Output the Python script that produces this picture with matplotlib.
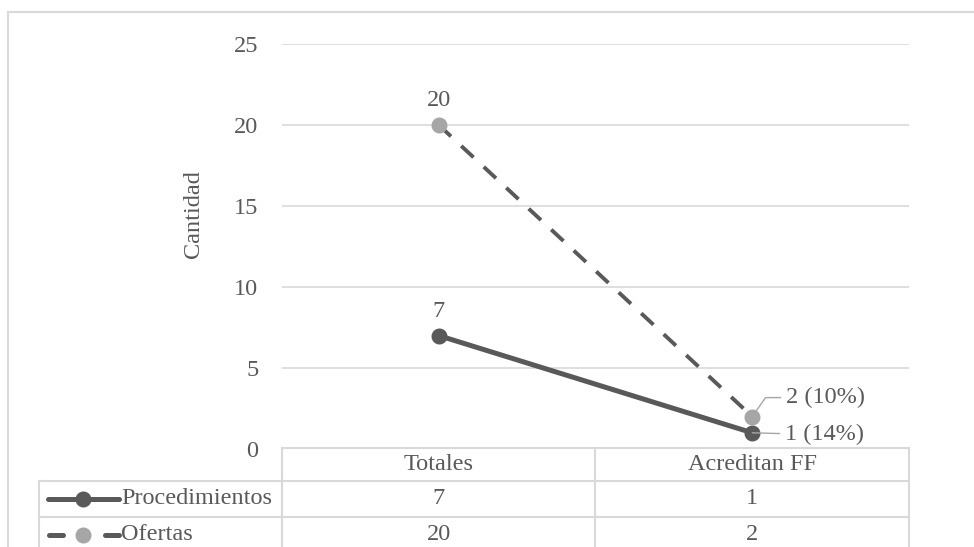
import matplotlib
matplotlib.use('Agg')
import matplotlib.pyplot as plt
from matplotlib.lines import Line2D
from matplotlib.patches import Rectangle

categorias = ['Totales', 'Acreditan FF']
procedimientos = [7, 1]
ofertas = [20, 2]
etiquetas_proc = ['7', '1 (14%)']
etiquetas_ofer = ['20', '2 (10%)']
yticks = [0, 5, 10, 15, 20, 25]

W, H = 974, 547
gris = '#595959'
gris_claro = '#a6a6a6'
borde = '#d9d9d9'
fs = 17.5
ms = 10.5

plt.rcParams['font.family'] = ['Liberation Serif', 'DejaVu Serif']

fig = plt.figure(figsize=(W / 100, H / 100), dpi=100)


def fx(x):
    return x / W


def fy(y):
    return 1 - y / H


# Chart area border
fig.patches.append(Rectangle((fx(8), fy(560)), fx(980) - fx(8), fy(12) - fy(560),
                             transform=fig.transFigure, fill=False,
                             edgecolor=borde, linewidth=1.5))

ax = fig.add_axes([fx(282), fy(449), fx(909) - fx(282), fy(44) - fy(449)])
x = list(range(len(categorias)))

ax.plot(x, procedimientos, color=gris, linewidth=3.6, marker='o',
        markersize=ms, zorder=3, solid_capstyle='round')
ax.plot(x, ofertas, color=gris, linewidth=2.8, linestyle=(0, (4.3, 3.6)),
        marker='o', markersize=ms, markerfacecolor=gris_claro,
        markeredgecolor=gris_claro, zorder=3)

ax.set_xlim(-0.5, 1.5)
ax.set_ylim(0, 25)
ax.set_yticks(yticks)
ax.set_xticks([])
ax.tick_params(axis='y', length=0, pad=17, labelsize=fs, labelcolor=gris)
for s in ax.spines.values():
    s.set_visible(False)
ax.grid(axis='y', color=borde, linewidth=1.2)
ax.set_axisbelow(True)

fig.text(fx(193), fy(214), 'Cantidad', rotation=90, ha='center', va='center',
         fontsize=fs, color=gris)

# Data labels
ax.annotate(etiquetas_ofer[0], (0, ofertas[0]), xytext=(0, 14), textcoords='offset pixels',
            ha='center', va='bottom', fontsize=fs, color=gris)
ax.annotate(etiquetas_proc[0], (0, procedimientos[0]), xytext=(0, 14), textcoords='offset pixels',
            ha='center', va='bottom', fontsize=fs, color=gris)
ax.annotate(etiquetas_ofer[1], (1, ofertas[1]), xytext=(34, 19), textcoords='offset pixels',
            ha='left', va='center', fontsize=fs, color=gris,
            arrowprops=dict(arrowstyle='-', color=gris_claro, linewidth=1,
                            shrinkA=2, shrinkB=3,
                            connectionstyle='angle,angleA=0,angleB=55,rad=0'))
ax.annotate(etiquetas_proc[1], (1, procedimientos[1]), xytext=(33, -2), textcoords='offset pixels',
            ha='left', va='center', fontsize=fs, color=gris,
            arrowprops=dict(arrowstyle='-', color=gris_claro, linewidth=1,
                            shrinkA=2, shrinkB=0))

# Data table below the plot
cols = [282, 595, 909]
filas = [448, 481, 517, 560]
leyenda_x = 39


def linea(x0, y0, x1, y1):
    fig.add_artist(Line2D([fx(x0), fx(x1)], [fy(y0), fy(y1)], transform=fig.transFigure,
                          color=borde, linewidth=1.5))


linea(cols[0], filas[0], cols[-1], filas[0])
for y in filas[1:3]:
    linea(leyenda_x, y, cols[-1], y)
for c in cols:
    linea(c, filas[0], c, H + 10)
linea(leyenda_x, filas[1], leyenda_x, H + 10)

y1 = (filas[1] + filas[2]) / 2
y2 = 535
for i, cat in enumerate(categorias):
    cx = (cols[i] + cols[i + 1]) / 2
    fig.text(fx(cx), fy((filas[0] + filas[1]) / 2), cat, ha='center', va='center',
             fontsize=fs, color=gris)
    fig.text(fx(cx), fy(y1), str(procedimientos[i]), ha='center',
             va='center', fontsize=fs, color=gris)
    fig.text(fx(cx), fy(y2), str(ofertas[i]), ha='center', va='center',
             fontsize=fs, color=gris)

# Legend keys inside the table
fig.add_artist(Line2D([fx(48), fx(119)], [fy(y1), fy(y1)], transform=fig.transFigure,
                      color=gris, linewidth=3.6, solid_capstyle='round'))
fig.add_artist(Line2D([fx(83)], [fy(y1)], transform=fig.transFigure, color=gris,
                      marker='o', markersize=ms))
fig.text(fx(121), fy(y1), 'Procedimientos', ha='left', va='center', fontsize=fs, color=gris)

fig.add_artist(Line2D([fx(49), fx(63)], [fy(y2), fy(y2)], transform=fig.transFigure,
                      color=gris, linewidth=3.6, solid_capstyle='round'))
fig.add_artist(Line2D([fx(105), fx(119)], [fy(y2), fy(y2)], transform=fig.transFigure,
                      color=gris, linewidth=3.6, solid_capstyle='round'))
fig.add_artist(Line2D([fx(83)], [fy(y2)], transform=fig.transFigure, color=gris_claro,
                      marker='o', markersize=ms))
fig.text(fx(121), fy(y2), 'Ofertas', ha='left', va='center', fontsize=fs, color=gris)

fig.savefig('out.png', dpi=100)
